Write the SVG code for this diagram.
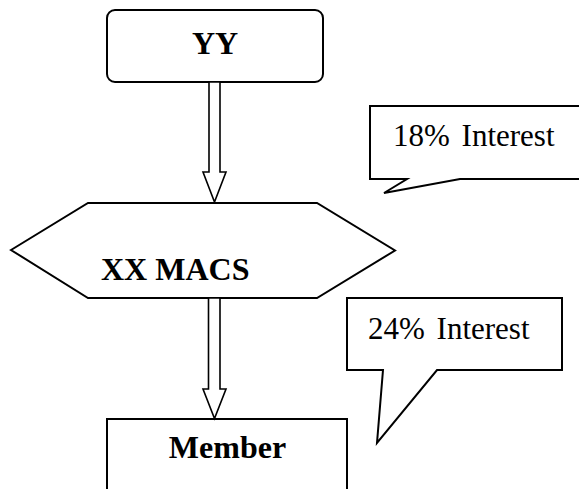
<svg xmlns="http://www.w3.org/2000/svg" width="579" height="489" viewBox="0 0 579 489">
  <style>
    .shape { fill: #ffffff; stroke: #000000; stroke-width: 2; stroke-linejoin: miter; }
    .bold { font-family: "Liberation Serif", "Times New Roman", serif; font-weight: bold; font-size: 32px; fill: #000000; }
    .reg { font-family: "Liberation Serif", "Times New Roman", serif; font-size: 31px; fill: #000000; word-spacing: 4px; }
    .arrow { fill: #ffffff; stroke: #000000; stroke-width: 1.6; stroke-linejoin: miter; }
  </style>
  <rect width="579" height="489" fill="#ffffff"/>

  <g id="node-yy">
    <rect class="shape" x="107" y="10" width="216" height="72" rx="8" ry="8"/>
    <text class="bold" x="215" y="54" text-anchor="middle">YY</text>
  </g>

  <g id="node-xx-macs">
    <polygon class="shape" points="11,250 88,203 317,203 395,250.5 317,298 88,298"/>
    <text class="bold" x="101" y="280">XX MACS</text>
  </g>

  <g id="node-member">
    <rect class="shape" x="107" y="419" width="240" height="100"/>
    <text class="bold" x="227.5" y="458" text-anchor="middle">Member</text>
  </g>

  <g id="callout-18">
    <path class="shape" d="M370,106 L590,106 L590,179 L460,179 L384,193 L407,179 L370,179 Z"/>
    <text class="reg" x="393" y="146">18% Interest</text>
  </g>

  <g id="callout-24">
    <path class="shape" d="M347,298 L562,298 L562,370 L437,370 L377,443 L383,370 L347,370 Z"/>
    <text class="reg" x="368" y="339">24% Interest</text>
  </g>

  <g id="connectors">
    <path class="arrow" d="M209,82 L209,172 L203,172 L214.5,202 L226,172 L220,172 L220,82 Z"/>
    <path class="arrow" d="M208.5,298 L208.5,389 L203,389 L214.5,418.5 L226,389 L220,389 L220,298 Z"/>
  </g>
</svg>
